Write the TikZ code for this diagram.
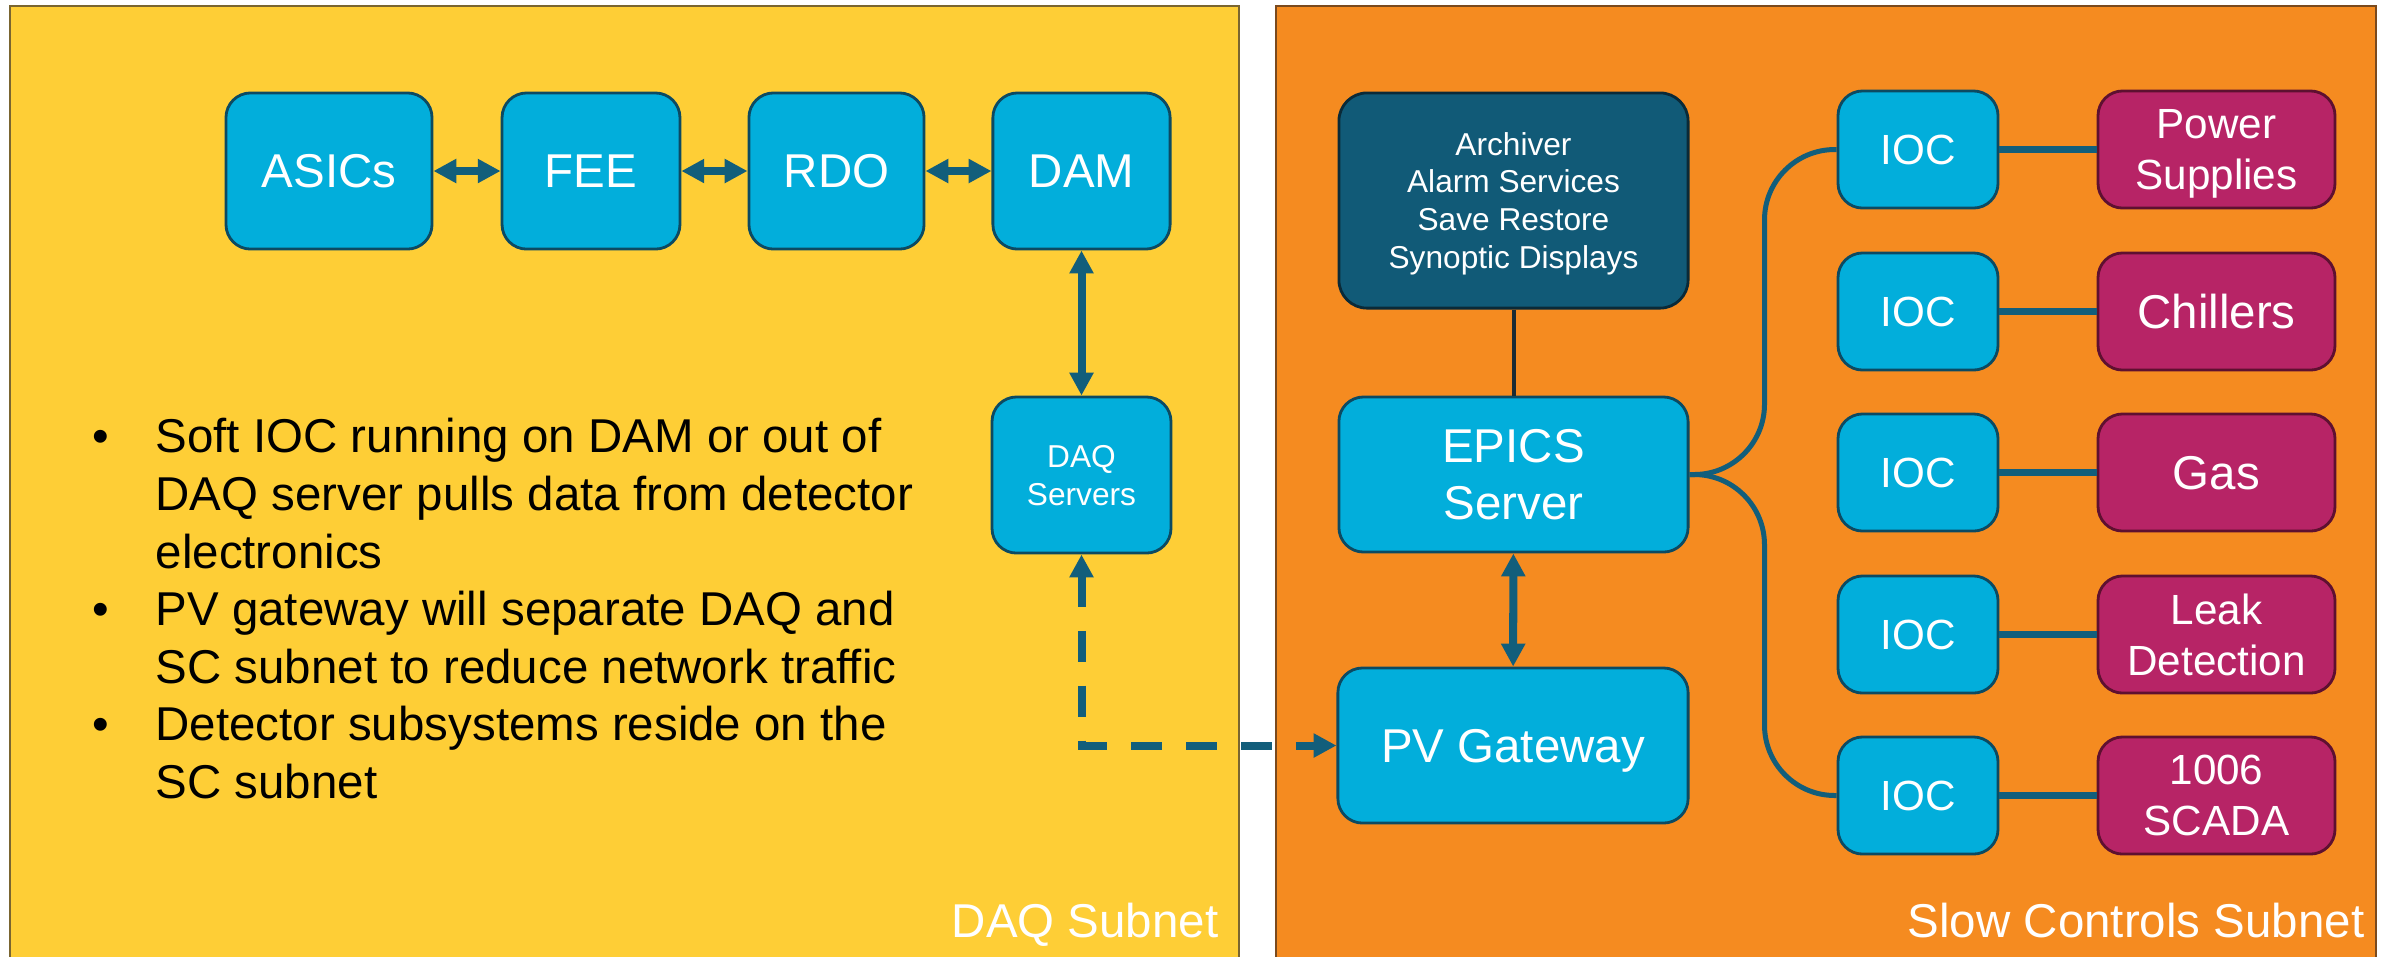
\documentclass[tikz,border=0pt]{standalone}
\usepackage{fontspec}
\setmainfont{Liberation Sans}
\usetikzlibrary{arrows.meta}
\definecolor{ybg}{HTML}{FECE36}
\definecolor{obg}{HTML}{F58B20}
\definecolor{cyanb}{HTML}{02AEDB}
\definecolor{cyanbd}{HTML}{0C4A62}
\definecolor{darkb}{HTML}{115A77}
\definecolor{darkbd}{HTML}{0A2A38}
\definecolor{magb}{HTML}{B72466}
\definecolor{magbd}{HTML}{5E1030}
\definecolor{conn}{HTML}{125E7B}
\definecolor{ybd}{HTML}{7A6530}
\definecolor{obd}{HTML}{7A4A1E}
\definecolor{archline}{HTML}{1B2B33}
\newcommand{\fbig}{\fontsize{13.5}{16.2}\selectfont}
\newcommand{\fmid}{\fontsize{12}{14.5}\selectfont}
\newcommand{\fsml}{\fontsize{9}{10.8}\selectfont}
\newcommand{\flist}{\fontsize{13.5}{16.4}\selectfont}
\tikzset{
  cbox/.style={draw=cyanbd, fill=cyanb, line width=0.8pt, rounded corners=7pt,
    text=white, align=center, inner sep=0pt, text depth=0pt},
  dbox/.style={cbox, draw=darkbd, fill=darkb, rounded corners=8pt},
  mbox/.style={cbox, draw=magbd, fill=magb},
  dbl/.style={draw=conn, line width=2.28pt,
    {Triangle[width=6.5pt,length=6.5pt]}-{Triangle[width=6.5pt,length=6.5pt]}},
  dasharrow/.style={dbl, dash pattern=on 8.8pt off 6.8pt},
  brace/.style={draw=conn, line width=1.42pt, rounded corners=20pt},
  link/.style={draw=conn, line width=2pt},
  listline/.style={anchor=base west, inner sep=0pt, font=\flist, text=black},
  bul/.style={anchor=base, inner sep=0pt, font=\flist, text=black},
  subnet/.style={anchor=base east, inner sep=0pt, font=\fbig, text=white}
}
\begin{document}
\begin{tikzpicture}[x=0.01cm, y=-0.01cm]
\useasboundingbox (0,0) rectangle (2387,956);
\fill[white] (0,0) rectangle (2387,956);
% panels
\draw[ybd, fill=ybg, line width=0.6pt] (10,6) rectangle (1239,966);
\draw[obd, fill=obg, line width=0.6pt] (1276,6) rectangle (2376,966);
\node[subnet] (daqsub) at (1219,937) {DAQ Subnet};
\node[subnet] (scsub) at (2365,937) {Slow Controls Subnet};
% DAQ chain
\node[cbox, font=\fbig, minimum width=58.6pt, minimum height=44.4pt] (asics) at (329,171) {ASICs};
\node[cbox, font=\fbig, minimum width=50.6pt, minimum height=44.4pt] (fee) at (591,171) {FEE};
\node[cbox, font=\fbig, minimum width=49.8pt, minimum height=44.4pt] (rdo) at (836.5,171) {RDO};
\node[cbox, font=\fbig, minimum width=50.4pt, minimum height=44.4pt] (dam) at (1081.5,171) {DAM};
\node[cbox, font=\fsml, minimum width=50.9pt, minimum height=44.4pt] (daq) at (1081.5,475) {DAQ\\Servers};
\draw[dbl] (asics) -- (fee);
\draw[dbl] (fee) -- (rdo);
\draw[dbl] (rdo) -- (dam);
\draw[dbl] (dam) -- (daq);
% bullets
\node[bul] (bu1) at (101,452.4) {\textbullet};
\node[bul] (bu2) at (101,625.4) {\textbullet};
\node[bul] (bu3) at (101,740.8) {\textbullet};
\node[listline] (l1) at (155,452.4) {Soft IOC running on DAM or out of};
\node[listline] (l2) at (155,510.4) {DAQ server pulls data from detector};
\node[listline] (l3) at (155,568.1) {electronics};
\node[listline] (l4) at (155,625.4) {PV gateway will separate DAQ and};
\node[listline] (l5) at (155,683.1) {SC subnet to reduce network traffic};
\node[listline] (l6) at (155,740.8) {Detector subsystems reside on the};
\node[listline] (l7) at (155,798.1) {SC subnet};
% slow controls
\node[dbox, font=\fsml, minimum width=99.3pt, minimum height=61.2pt] (arch) at (1513.5,200.5)
  {Archiver\\Alarm Services\\Save Restore\\Synoptic Displays};
\node[cbox, font=\fbig, minimum width=99.3pt, minimum height=44.1pt] (epics) at (1513.5,474.5) {EPICS\\Server};
\node[cbox, font=\fbig, minimum width=99.6pt, minimum height=44.1pt] (pv) at (1513,745.5) {PV Gateway};
\draw[archline, line width=1.14pt] (arch) -- (epics);
\draw[dbl] (epics) -- (pv);
\draw[dasharrow] (daq.south) |- (pv.west);
% IOCs and devices
\foreach \i/\yy/\dev/\df in {1/149.5/{Power\\Supplies}/\fmid, 2/311.5/{Chillers}/\fbig, 3/472.5/{Gas}/\fbig, 4/634.5/{Leak\\Detection}/\fmid, 5/795.5/{1006\\SCADA}/\fmid}{
  \node[cbox, font=\fmid, minimum width=45.5pt, minimum height=33.3pt] (ioc\i) at (1918,\yy) {IOC};
  \node[mbox, font=\df, minimum width=67.4pt, minimum height=33.3pt] (dev\i) at (2216.5,\yy) {\dev};
  \draw[link] (ioc\i) -- (dev\i);
}
\draw[brace] (epics.east) -- ++(75,0) |- (ioc1.west);
\draw[brace] (epics.east) -- ++(75,0) |- (ioc5.west);
\end{tikzpicture}
\end{document}
